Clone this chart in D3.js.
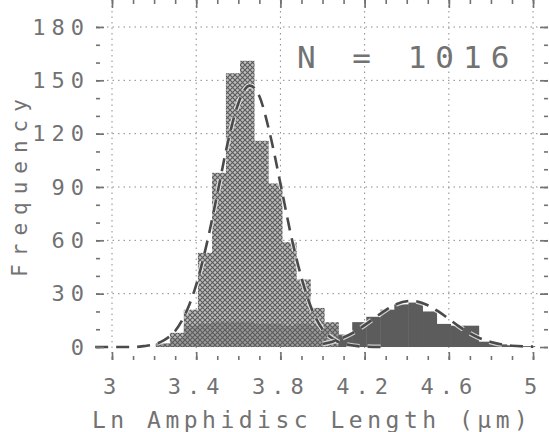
<!DOCTYPE html>
<html>
<head>
<meta charset="utf-8">
<script src="https://cdn.jsdelivr.net/npm/d3@7"></script>
<style>
  html, body { margin: 0; background: #fff; }
  svg { display: block; }
</style>
</head>
<body>
<div id="chart"></div>
<script>
/* Histogram of ln amphidisc length: two overlapping groups with fitted dashed curves. */

var binStarts = [3.208, 3.275, 3.341, 3.408, 3.475, 3.541, 3.608, 3.675, 3.741, 3.808, 3.875, 3.941, 4.008,
  4.075, 4.141, 4.208, 4.275, 4.341, 4.408, 4.475, 4.541, 4.608, 4.675, 4.741, 4.808, 4.875, 4.941];
var binWidth = 0.0667;
// total height of the hatched (small-form) bars
var hatchedCounts = [2, 8, 21, 53, 98, 154, 161, 116, 92, 59, 38, 22, 14,
  0, 0, 0, 0, 0, 0, 0, 0, 0, 0, 0, 0, 0, 0];
// dark grey (large-form) bars
var darkCounts = [2, 5, 12, 13, 14, 14, 14, 13, 13, 12, 13, 12, 12,
  7, 14, 17, 21, 24, 25, 20, 13, 12, 12, 3, 1.5, 1, 0.5];

var fit1X = [2.92, 3.1, 3.15, 3.2, 3.25, 3.3, 3.35, 3.4, 3.45, 3.5, 3.55, 3.6, 3.655, 3.7, 3.75, 3.8,
  3.85, 3.9, 3.95, 4.0, 4.05, 4.1, 4.2, 4.3];
var fit1Y = [0, 0, 0.5, 1.5, 4, 9, 19, 35, 58, 86, 115, 137, 147, 141, 120, 92,
  63, 39, 21, 10, 4.6, 1.8, 0.2, 0];
var fit2X = [4.0, 4.05, 4.1, 4.15, 4.2, 4.25, 4.3, 4.35, 4.42, 4.5, 4.55, 4.6, 4.65, 4.7,
  4.75, 4.8, 4.9, 5.0];
var fit2Y = [1.7, 3.1, 5.4, 8.4, 12.3, 16.6, 20.8, 24.1, 26, 23.5, 20, 15.8, 11.5, 7.7,
  4.8, 2.8, 0.7, 0.2];

var xMajor = [3, 3.4, 3.8, 4.2, 4.6, 5];
var xMinor = [3, 3.1, 3.2, 3.3, 3.4, 3.5, 3.6, 3.7, 3.8, 3.9, 4, 4.1, 4.2, 4.3, 4.4, 4.5, 4.6, 4.7, 4.8, 4.9, 5];
var yMajor = [0, 30, 60, 90, 120, 150, 180];
var yMinor = [0, 10, 20, 30, 40, 50, 60, 70, 80, 90, 100, 110, 120, 130, 140, 150, 160, 170, 180];
var sampleLabel = "N = 1016";

var width = 549, height = 432;
var ink = "#727272";
var mono = "'DejaVu Sans Mono', 'Liberation Mono', monospace";

var svg = d3.select("#chart").append("svg")
  .attr("width", width).attr("height", height)
  .attr("viewBox", "0 0 " + width + " " + height);

svg.append("rect").attr("width", width).attr("height", height).attr("fill", "#fff");

var defs = svg.append("defs");
var pat = defs.append("pattern").attr("id", "hatch")
  .attr("patternUnits", "userSpaceOnUse").attr("width", 5).attr("height", 5);
pat.append("rect").attr("width", 5).attr("height", 5).attr("fill", "#bdbdbd");
pat.append("path").attr("d", "M0,0L5,5M5,0L0,5")
  .attr("stroke", "#5a5a5a").attr("stroke-width", 1.1);

var x = d3.scaleLinear().domain([2.924, 5.071]).range([96, 548]);
var y = d3.scaleLinear().domain([-7.3, 186.75]).range([360, 15]);
var left = x.range()[0], right = x.range()[1], top = y.range()[1], bottom = y.range()[0];

/* dotted grid */
var grid = svg.append("g").attr("stroke", "#8c8c8c").attr("stroke-width", 1).attr("stroke-dasharray", "1.5 4");
grid.selectAll("line.gx").data(xMajor).enter().append("line")
  .attr("x1", function (d) { return x(d); }).attr("x2", function (d) { return x(d); })
  .attr("y1", top).attr("y2", bottom);
grid.selectAll("line.gy").data(yMajor.slice(1)).enter().append("line")
  .attr("x1", left).attr("x2", right)
  .attr("y1", function (d) { return y(d); }).attr("y2", function (d) { return y(d); });

/* bars */
var bins = binStarts.map(function (s, i) { return { x0: s, x1: s + binWidth, hatched: hatchedCounts[i], dark: darkCounts[i] }; });

svg.append("g").selectAll("rect").data(bins.filter(function (d) { return d.hatched > 0; })).enter().append("rect")
  .attr("x", function (d) { return x(d.x0); })
  .attr("width", function (d) { return x(d.x1) - x(d.x0) + 0.5; })
  .attr("y", function (d) { return y(d.hatched); })
  .attr("height", function (d) { return y(0) - y(d.hatched); })
  .attr("fill", "url(#hatch)");

svg.append("g").selectAll("rect").data(bins).enter().append("rect")
  .attr("x", function (d) { return x(d.x0); })
  .attr("width", function (d) { return x(d.x1) - x(d.x0) + 0.5; })
  .attr("y", function (d) { return y(d.dark); })
  .attr("height", function (d) { return y(0) - y(d.dark); })
  .attr("fill", "#5c5c5c")
  .attr("fill-opacity", function (d) { return d.hatched > 0 ? 0.35 : 1; });

/* fitted curves */
var line = d3.line()
  .x(function (d) { return x(d[0]); })
  .y(function (d) { return y(d[1]); })
  .curve(d3.curveMonotoneX);

[d3.zip(fit1X, fit1Y), d3.zip(fit2X, fit2Y)].forEach(function (pts) {
  svg.append("path").datum(pts)
    .attr("fill", "none").attr("stroke", "#fff").attr("stroke-width", 5)
    .attr("stroke-dasharray", "13 8").attr("stroke-opacity", 0.7)
    .attr("d", line);
  svg.append("path").datum(pts)
    .attr("fill", "none").attr("stroke", "#4a4a4a").attr("stroke-width", 2.6)
    .attr("stroke-dasharray", "13 8")
    .attr("d", line);
});

/* ticks on all four sides, pointing inward */
function styleAxis(g) {
  g.select(".domain").remove();
  g.selectAll("line").attr("stroke", ink).attr("stroke-width", 1.6);
  g.selectAll("text").attr("fill", ink).attr("font-family", mono)
    .attr("font-size", 22).attr("letter-spacing", 6);
}

svg.append("g").attr("transform", "translate(" + left + ",0)")
  .call(d3.axisLeft(y).tickValues(yMinor).tickSize(-4).tickFormat(""))
  .call(styleAxis);
svg.append("g").attr("transform", "translate(" + left + ",0)")
  .call(d3.axisLeft(y).tickValues(yMajor).tickSize(-8).tickPadding(6).tickFormat(d3.format("d")))
  .call(styleAxis);
svg.append("g").attr("transform", "translate(" + right + ",0)")
  .call(d3.axisRight(y).tickValues(yMinor).tickSize(-4).tickFormat(""))
  .call(styleAxis);
svg.append("g").attr("transform", "translate(" + right + ",0)")
  .call(d3.axisRight(y).tickValues(yMajor).tickSize(-8).tickFormat(""))
  .call(styleAxis);

svg.append("g").attr("transform", "translate(0," + bottom + ")")
  .call(d3.axisBottom(x).tickValues(xMinor).tickSize(-4).tickFormat(""))
  .call(styleAxis);
svg.append("g").attr("transform", "translate(0," + bottom + ")")
  .call(d3.axisBottom(x).tickValues(xMajor).tickSize(-8).tickPadding(18).tickFormat(String))
  .call(styleAxis);
svg.append("g").attr("transform", "translate(0," + top + ")")
  .call(d3.axisTop(x).tickValues(xMinor).tickSize(-4).tickFormat(""))
  .call(styleAxis);
svg.append("g").attr("transform", "translate(0," + top + ")")
  .call(d3.axisTop(x).tickValues(xMajor).tickSize(-8).tickFormat(""))
  .call(styleAxis);

/* frame */
svg.append("rect")
  .attr("x", left).attr("y", top)
  .attr("width", right - left).attr("height", bottom - top)
  .attr("fill", "none").attr("stroke", ink).attr("stroke-width", 2.2);

/* texts */
svg.append("text")
  .attr("x", 297).attr("y", 68)
  .attr("fill", ink).attr("font-family", mono).attr("font-size", 31).attr("letter-spacing", 9)
  .text(sampleLabel);

svg.append("text")
  .attr("x", 92).attr("y", 428)
  .attr("fill", ink).attr("font-family", mono).attr("font-size", 23).attr("letter-spacing", 4.5)
  .text("Ln Amphidisc Length (\u00b5m)");

svg.append("text")
  .attr("transform", "translate(27,184) rotate(-90)")
  .attr("text-anchor", "middle")
  .attr("fill", ink).attr("font-family", mono).attr("font-size", 21).attr("letter-spacing", 8)
  .text("Frequency");
</script>
</body>
</html>
